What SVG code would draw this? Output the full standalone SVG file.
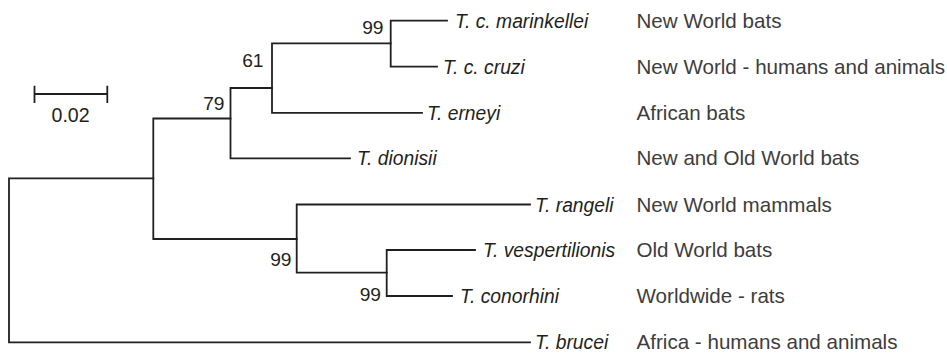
<svg xmlns="http://www.w3.org/2000/svg" width="947" height="353" viewBox="0 0 947 353">
<style>
.br{fill:none;stroke:#231f20;stroke-width:1.8;stroke-linecap:square}
.tx{font-family:"Liberation Sans",Arial,sans-serif;font-style:italic;font-size:19.3px;fill:#231f20}
.rg{font-family:"Liberation Sans",Arial,sans-serif;font-size:20.6px;fill:#3d3d3d}
.bs{font-family:"Liberation Sans",Arial,sans-serif;font-size:19.2px;fill:#231f20;text-anchor:end}
.sc{font-family:"Liberation Sans",Arial,sans-serif;font-size:19.6px;fill:#231f20}
</style>
<rect width="947" height="353" fill="#ffffff"/>
<g id="connectors">
<path class="br" d="M9,178.3 H153.3 M9,178.3 V342.3 H530"/>
<path class="br" d="M153.3,118.5 V239 M153.3,118.5 H230.5 M153.3,239 H296.7"/>
<path class="br" d="M230.5,88 V158.3 H350 M230.5,88 H272"/>
<path class="br" d="M272,43.3 V112.8 H422 M272,43.3 H390.7"/>
<path class="br" d="M390.7,20.7 V66.7 H437 M390.7,20.7 H447"/>
<path class="br" d="M296.7,204.5 V272.7 H386.7 M296.7,204.5 H530"/>
<path class="br" d="M386.7,250 V296 H452 M386.7,250 H475"/>
</g>
<g id="scale">
<path class="br" d="M34.5,94 H107.3 M34.5,86.7 V102 M107.3,86.7 V102"/>
<text class="sc" x="51.5" y="121.5">0.02</text>
</g>
<g id="node-79"><text class="bs" x="224.5" y="110">79</text></g>
<g id="node-61"><text class="bs" x="263.5" y="67">61</text></g>
<g id="node-99a"><text class="bs" x="383.5" y="33.5">99</text></g>
<g id="node-99b"><text class="bs" x="291.5" y="266">99</text></g>
<g id="node-99c"><text class="bs" x="381" y="300.5">99</text></g>
<g id="leaf-marinkellei"><text class="tx" x="455" y="27.5">T. c. marinkellei</text><text class="rg" x="636.5" y="27.5">New World bats</text></g>
<g id="leaf-cruzi"><text class="tx" x="443" y="73.5">T. c. cruzi</text><text class="rg" x="636.5" y="73.5">New World - humans and animals</text></g>
<g id="leaf-erneyi"><text class="tx" x="427" y="119.5">T. erneyi</text><text class="rg" x="636.5" y="119.5">African bats</text></g>
<g id="leaf-dionisii"><text class="tx" x="357" y="165">T. dionisii</text><text class="rg" x="636.5" y="165">New and Old World bats</text></g>
<g id="leaf-rangeli"><text class="tx" x="535" y="211.5">T. rangeli</text><text class="rg" x="636.5" y="211.5">New World mammals</text></g>
<g id="leaf-vespertilionis"><text class="tx" x="483" y="257">T. vespertilionis</text><text class="rg" x="636.5" y="257">Old World bats</text></g>
<g id="leaf-conorhini"><text class="tx" x="460" y="303">T. conorhini</text><text class="rg" x="636.5" y="303">Worldwide - rats</text></g>
<g id="leaf-brucei"><text class="tx" x="535" y="349">T. brucei</text><text class="rg" x="636.5" y="349">Africa - humans and animals</text></g>
</svg>
